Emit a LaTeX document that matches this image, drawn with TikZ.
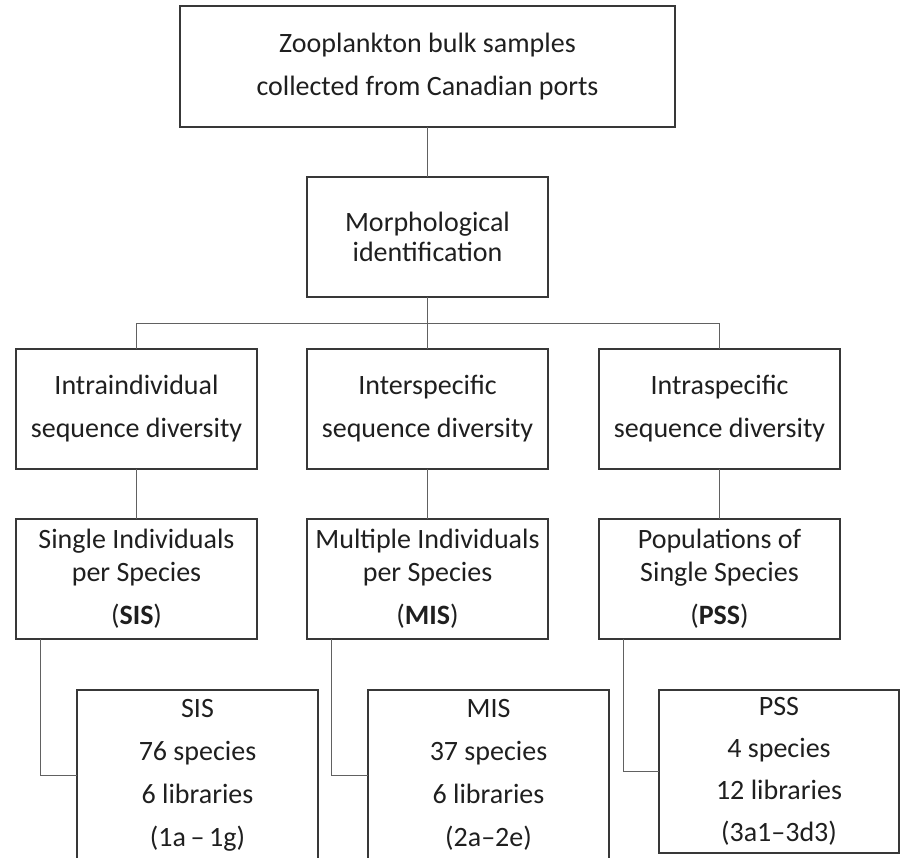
\documentclass[tikz,border=0pt]{standalone}
\usepackage{fontspec}
\setmainfont{Carlito}
\usetikzlibrary{positioning}

\begin{document}
\begin{tikzpicture}[
  node distance=50pt,
  box/.style={rectangle, draw=black!78, line width=1.2pt, outer sep=0pt, minimum width=241pt, minimum height=120pt, align=center, inner sep=0pt, text=black!88, font=\fontsize{28}{43}\selectfont},
  link/.style={draw=black!62, line width=1pt}
]
\useasboundingbox (0,0) rectangle (901pt,-858pt);
\clip (0,0) rectangle (901pt,-858pt);

% Sampling
\node[box, minimum width=495pt, minimum height=121pt] (samples) at (427.5pt,-66.5pt) {Zooplankton bulk samples\\collected from Canadian ports};
\node[box, below=of samples] (morph) {Morphological\\[-13pt]identification};

% Diversity levels
\node[box, below=52pt of morph] (inter) {Interspecific\\sequence diversity};
\node[box, left=of inter] (intra) {Intraindividual\\sequence diversity};
\node[box, right=51pt of inter] (intrasp) {Intraspecific\\sequence diversity};

% Sample designs
\node[box, below=of intra] (sis) {Single Individuals\\[-10pt]per Species\\(\textbf{SIS})};
\node[box, below=of inter] (mis) {Multiple Individuals\\[-10pt]per Species\\(\textbf{MIS})};
\node[box, below=of intrasp] (pss) {Populations of\\[-10pt]Single Species\\(\textbf{PSS})};

% Libraries
\node[box, minimum height=170pt, below=51pt of sis, xshift=61pt] (sislib) {SIS\\76 species\\6 libraries\\(1a\,--\,1g)};
\node[box, minimum height=170pt, below=51pt of mis, xshift=61pt] (mislib) {MIS\\37 species\\6 libraries\\(2a--2e)};
\node[box, minimum width=240pt, minimum height=163pt, below=51pt of pss, xshift=59.5pt, font=\fontsize{28}{42}\selectfont] (psslib) {PSS\\4 species\\12 libraries\\(3a1--3d3)};

\draw[link] (samples) -- (morph);
\draw[link] (morph) -- (inter);
\draw[link] (intra.north) -- ++(0,26pt) -| (intrasp.north);
\draw[link] (intra) -- (sis);
\draw[link] (inter) -- (mis);
\draw[link] (intrasp) -- (pss);
\draw[link] ([xshift=24.5pt]sis.south west) |- (sislib.west);
\draw[link] ([xshift=24.5pt]mis.south west) |- (mislib.west);
\draw[link] ([xshift=24.5pt]pss.south west) |- (psslib.west);
\end{tikzpicture}
\end{document}
